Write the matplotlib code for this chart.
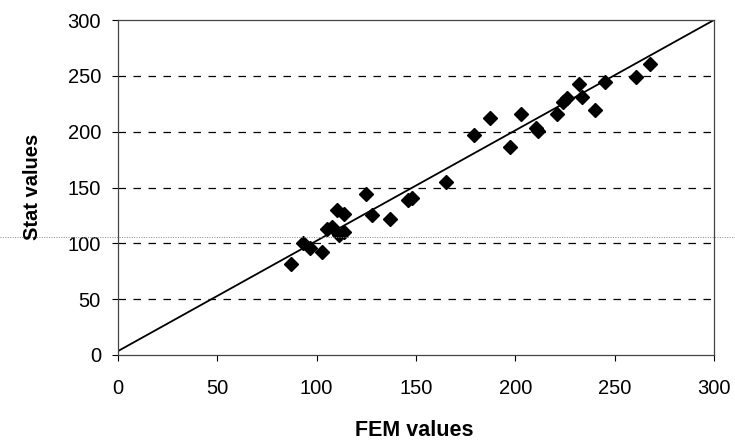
import matplotlib
matplotlib.use("Agg")
import matplotlib.pyplot as plt
from matplotlib.lines import Line2D

plt.rcParams['font.family'] = ['Liberation Sans', 'DejaVu Sans']

fem_values = [87.2, 92.9, 96.5, 102.7, 105.2, 107.7, 111.0, 110.3, 113.6, 113.6,
              125.0, 127.9, 137.1, 146.0, 148.0, 164.9, 179.0, 187.0, 197.3, 203.0,
              210.3, 211.4, 220.8, 224.2, 225.9, 231.8, 233.8, 240.0, 245.0, 260.7, 267.7]
stat_values = [81.5, 100.0, 95.5, 92.0, 112.5, 115.0, 107.5, 130.0, 126.3, 110.4,
               144.0, 125.4, 121.5, 138.8, 141.0, 155.2, 197.0, 212.0, 186.0, 215.5,
               203.0, 200.6, 215.8, 226.8, 229.9, 242.7, 231.3, 219.4, 244.7, 248.6, 260.3]

line_x = [0, 300]
line_y = [3.5, 300]

ticks = [0, 50, 100, 150, 200, 250, 300]
grid_levels = [50, 100, 150, 200, 250]

fig = plt.figure(figsize=(7.35, 4.42), dpi=100)
ax = fig.add_axes([118/735, 1-355/442, (714-118)/735, (355-20)/442])

for g in grid_levels:
    ax.axhline(g, color='black', lw=0.9, linestyle=(0, (6, 6)), zorder=1)

ax.plot(line_x, line_y, color='black', lw=1.3, zorder=2)
ax.plot(fem_values, stat_values, linestyle='none', marker='D', markersize=7.5,
        color='black', zorder=3)

ax.set_xlim(0, 300)
ax.set_ylim(0, 300)
ax.set_xticks(ticks)
ax.set_yticks(ticks)
ax.tick_params(direction='out', length=4.3, width=0.8, labelsize=14.5, colors='black')
ax.tick_params(axis='y', pad=8)
ax.tick_params(axis='x', pad=13)
for s in ax.spines.values():
    s.set_linewidth(0.9)
    s.set_color('#444444')

fig.text(414/735, 1-436/442, 'FEM values', fontsize=15.5, fontweight='bold',
         ha='center', va='baseline')
fig.text(38/735, 1-187/442, 'Stat values', fontsize=14.5, fontweight='bold',
         ha='center', va='baseline', rotation=90, rotation_mode='anchor')

# dotted scan line across the figure
fig.add_artist(Line2D([0, 1], [1-237/442, 1-237/442], transform=fig.transFigure,
                      color='#888888', lw=0.7, linestyle=(0, (1, 1.5))))

fig.savefig('out.png', dpi=100)
